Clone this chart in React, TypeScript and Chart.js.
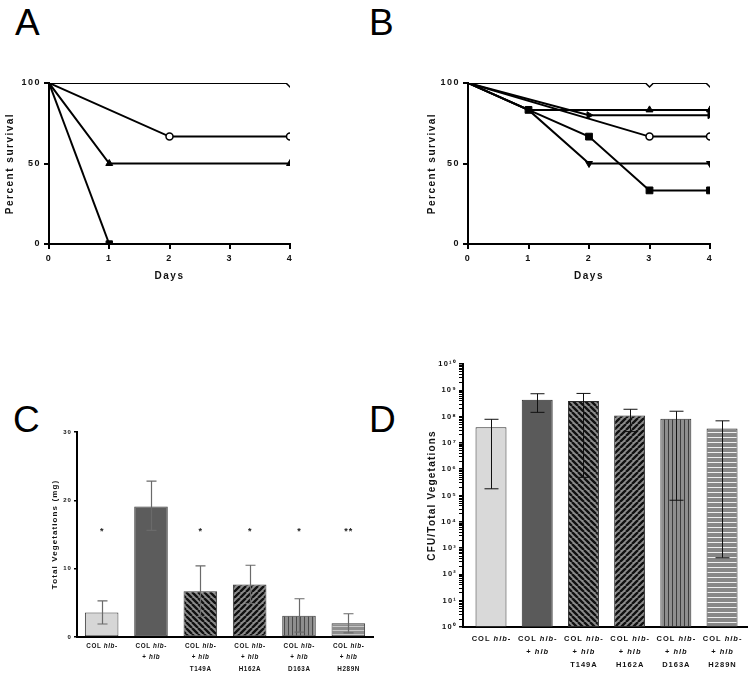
import React, { useEffect, useRef } from 'react';
import { Chart, registerables } from 'chart.js';
Chart.register(...registerables);

const FAMILY = "'Liberation Sans', Arial, Helvetica, sans-serif";

// ---------------- Panel A : survival ----------------
const dayTicks = [0, 1, 2, 3, 4];
const pctTicks = [0, 50, 100];
const aSquareDays = [0, 1];
const aSquarePct = [100, 0];
const aTriDays = [0, 1, 4];
const aTriPct = [100, 50, 50];
const aCircleDays = [0, 2, 4];
const aCirclePct = [100, 66.7, 66.7];
const aDiamondDays = [0, 4];
const aDiamondPct = [100, 100];

// ---------------- Panel B : survival ----------------
const bDiamondDays = [0, 3, 4];
const bDiamondPct = [100, 100, 100];
const bTriUpDays = [0, 1, 3, 4];
const bTriUpPct = [100, 83.3, 83.3, 83.3];
const bTriRightDays = [0, 2, 4];
const bTriRightPct = [100, 80, 80];
const bCircleDays = [0, 3, 4];
const bCirclePct = [100, 66.7, 66.7];
const bSquareDays = [0, 1, 2, 3, 4];
const bSquarePct = [100, 83.3, 66.7, 33.3, 33.3];
const bTriDownDays = [0, 1, 2, 4];
const bTriDownPct = [100, 83.3, 50, 50];

// ---------------- Panels C / D : strains ----------------
const strainLabels = [
  ['COL hlb-'],
  ['COL hlb-', '+ hlb'],
  ['COL hlb-', '+ hlb', 'T149A'],
  ['COL hlb-', '+ hlb', 'H162A'],
  ['COL hlb-', '+ hlb', 'D163A'],
  ['COL hlb-', '+ hlb', 'H289N'],
];

// Panel C: total vegetations (mg)
const cTicks = [0, 10, 20, 30];
const cMeans = [3.6, 19.1, 6.7, 7.7, 3.1, 2.0];
const cErrLow = [1.9, 15.6, 3.0, 4.9, 0.7, 0.6];
const cErrHigh = [5.3, 22.8, 10.4, 10.5, 5.6, 3.4];
const cSignificance = ['*', '', '*', '*', '*', '**'];
const cSigLevel = 15.8;

// Panel D: CFU / total vegetations (log)
const dMeans = [3.9e7, 4.4e8, 3.9e8, 1.1e8, 8.3e7, 3.5e7];
const dErrLow = [1.8e5, 1.45e8, 4.9e5, 2.7e7, 6.6e4, 4.3e2];
const dErrHigh = [7.9e7, 7.4e8, 7.6e8, 1.9e8, 1.6e8, 6.9e7];
const dDecades = [0, 1, 2, 3, 4, 5, 6, 7, 8, 9, 10];

const SUP = '⁰¹²³⁴⁵⁶⁷⁸⁹';
const sup = (n: number) => String(n).split('').map((d) => SUP[+d]).join('');

function spacingPlugin(px: number) {
  return {
    id: 'spacing' + String(px).replace('.', '_'),
    beforeDraw(chart: any) {
      chart.ctx.letterSpacing = px + 'px';
    },
  };
}

function survSet(days: number[], pct: number[], shape: string, r: number, open: boolean, rot = 0, hide: number[] = []) {
  return {
    data: days.map((d, i) => ({ x: d, y: pct[i] })),
    borderColor: '#000',
    borderWidth: 2,
    tension: 0,
    fill: false,
    pointStyle: shape,
    pointRotation: rot,
    pointRadius: days.map((d, i) => (i === 0 || hide.includes(d) ? 0 : r)),
    pointBackgroundColor: open ? '#fff' : '#000',
    pointBorderColor: '#000',
    pointBorderWidth: open ? 1.5 : 1,
    clip: 0,
  };
}

function survivalOptions(yWidth: number, titlePad: number) {
  const tickFont = { family: FAMILY, size: 9, weight: 'bold' as const };
  const titleFont = { family: FAMILY, size: 10, weight: 'bold' as const };
  const grid = { display: true, drawOnChartArea: false, drawTicks: true, tickLength: 5, color: '#000', lineWidth: 2 };
  return {
    animation: false,
    responsive: false,
    devicePixelRatio: 1,
    layout: { padding: { top: 13, right: 10, left: 0, bottom: 0 } },
    plugins: { legend: { display: false }, tooltip: { enabled: false } },
    scales: {
      x: {
        type: 'linear',
        min: 0,
        max: 4,
        afterBuildTicks: (s: any) => { s.ticks = dayTicks.map((v) => ({ value: v })); },
        ticks: { color: '#111', font: tickFont, padding: 4, maxRotation: 0 },
        grid,
        border: { display: true, color: '#000', width: 2 },
        title: { display: true, text: 'Days', color: '#111', font: titleFont, padding: { top: 0, bottom: 8 } },
        afterFit: (s: any) => { s.height = 46; },
      },
      y: {
        type: 'linear',
        min: 0,
        max: 100,
        afterBuildTicks: (s: any) => { s.ticks = pctTicks.map((v) => ({ value: v })); },
        ticks: { color: '#111', font: tickFont, padding: 3 },
        grid,
        border: { display: true, color: '#000', width: 2 },
        title: { display: true, text: 'Percent survival', color: '#111', font: titleFont, padding: { top: titlePad, bottom: 0 } },
        afterFit: (s: any) => { s.width = yWidth; },
      },
    },
  };
}

function makePattern(kind: string, bg: string, fg: string, period: number, lw: number) {
  const c = document.createElement('canvas');
  c.width = period;
  c.height = period;
  const g = c.getContext('2d')!;
  g.fillStyle = bg;
  g.fillRect(0, 0, period, period);
  g.strokeStyle = fg;
  g.lineWidth = lw;
  g.beginPath();
  const mid = Math.floor(period / 2) + 0.5;
  if (kind === 'back') {
    for (const o of [-period, 0, period]) { g.moveTo(o, 0); g.lineTo(o + period, period); }
  } else if (kind === 'fwd') {
    for (const o of [-period, 0, period]) { g.moveTo(o, period); g.lineTo(o + period, 0); }
  } else if (kind === 'vert') {
    g.moveTo(mid, 0); g.lineTo(mid, period);
  } else {
    g.moveTo(0, mid); g.lineTo(period, mid);
  }
  g.stroke();
  return g.createPattern(c, 'repeat')!;
}

function drawRichLabels(chart: any, lines: string[][], size: number, dy: number, lh: number, spacing: number) {
  const ctx = chart.ctx;
  const xs = chart.scales.x;
  const y0 = chart.chartArea.bottom + dy;
  ctx.save();
  ctx.fillStyle = '#111';
  ctx.textBaseline = 'middle';
  ctx.textAlign = 'left';
  ctx.letterSpacing = spacing + 'px';
  lines.forEach((lns, i) => {
    const cx = xs.getPixelForValue(i);
    lns.forEach((line, j) => {
      const segs = line.split(/(hlb)/).filter(Boolean).map((t) => ({ t, it: t === 'hlb', w: 0 }));
      let total = 0;
      segs.forEach((s) => {
        ctx.font = `${s.it ? 'italic ' : ''}bold ${size}px ${FAMILY}`;
        s.w = ctx.measureText(s.t).width;
        total += s.w;
      });
      let x = cx - total / 2 + spacing / 2;
      segs.forEach((s) => {
        ctx.font = `${s.it ? 'italic ' : ''}bold ${size}px ${FAMILY}`;
        ctx.fillText(s.t, x, y0 + j * lh);
        x += s.w;
      });
    });
  });
  ctx.restore();
}

function drawErrorBars(chart: any, lo: number[], hi: number[], color: string, lw: number, cap: number) {
  const ctx = chart.ctx;
  const xs = chart.scales.x;
  const ys = chart.scales.y;
  ctx.save();
  ctx.strokeStyle = color;
  ctx.lineWidth = lw;
  lo.forEach((l, i) => {
    const x = Math.round(xs.getPixelForValue(i)) + 0.5;
    const yl = ys.getPixelForValue(l);
    const yh = ys.getPixelForValue(hi[i]);
    ctx.beginPath();
    ctx.moveTo(x, yl); ctx.lineTo(x, yh);
    ctx.moveTo(x - cap / 2, yl); ctx.lineTo(x + cap / 2, yl);
    ctx.moveTo(x - cap / 2, yh); ctx.lineTo(x + cap / 2, yh);
    ctx.stroke();
  });
  ctx.restore();
}

function useChart(factory: (canvas: HTMLCanvasElement) => any) {
  const ref = useRef<HTMLCanvasElement>(null);
  useEffect(() => {
    const chart = new Chart(ref.current!, factory(ref.current!));
    return () => chart.destroy();
  }, []);
  return ref;
}

function PanelA() {
  const ref = useChart(() => ({
    type: 'line',
    data: {
      datasets: [
        survSet(aSquareDays, aSquarePct, 'rect', 4.5, false),
        survSet(aTriDays, aTriPct, 'triangle', 4, false),
        survSet(aCircleDays, aCirclePct, 'circle', 3.5, true),
        survSet(aDiamondDays, aDiamondPct, 'rectRot', 4, true),
      ],
    },
    options: survivalOptions(49, 4.5),
    plugins: [spacingPlugin(1.5)],
  }));
  return <canvas ref={ref} width={300} height={220} style={{ position: 'absolute', left: 0, top: 70 }} />;
}

function PanelB() {
  const ref = useChart(() => ({
    type: 'line',
    data: {
      datasets: [
        survSet(bSquareDays, bSquarePct, 'rect', 4.8, false),
        survSet(bTriDownDays, bTriDownPct, 'triangle', 4, false, 180, [1]),
        survSet(bTriUpDays, bTriUpPct, 'triangle', 4, false, 0, [1]),
        survSet(bTriRightDays, bTriRightPct, 'triangle', 4, false, 90),
        survSet(bCircleDays, bCirclePct, 'circle', 3.5, true),
        survSet(bDiamondDays, bDiamondPct, 'rectRot', 4, true),
      ],
    },
    options: survivalOptions(48, 6),
    plugins: [spacingPlugin(1.5)],
  }));
  return <canvas ref={ref} width={300} height={220} style={{ position: 'absolute', left: 420, top: 70 }} />;
}

function PanelC() {
  const ref = useChart(() => {
    const fills = [
      '#d6d6d6',
      '#5c5c5c',
      makePattern('back', '#8c8c8c', '#111', 6, 2.4),
      makePattern('fwd', '#8c8c8c', '#111', 6, 2.4),
      makePattern('vert', '#8e8e8e', '#4a4a4a', 4, 1),
      makePattern('horiz', '#8e8e8e', '#c8c8c8', 4, 1),
    ];
    const tickFont = { family: FAMILY, size: 6, weight: 'bold' as const };
    return {
      type: 'bar',
      data: {
        labels: strainLabels,
        datasets: [
          {
            data: cMeans,
            backgroundColor: fills,
            borderColor: '#3a3a3a',
            borderWidth: 1,
            borderSkipped: false,
            barPercentage: 0.68,
            categoryPercentage: 1,
          },
        ],
      },
      options: {
        animation: false,
        responsive: false,
        devicePixelRatio: 1,
        layout: { padding: { top: 32, right: 7, left: 0, bottom: 0 } },
        plugins: { legend: { display: false }, tooltip: { enabled: false } },
        scales: {
          x: {
            type: 'category',
            ticks: { display: false },
            grid: { display: false },
            border: { display: true, color: '#000', width: 2 },
            afterFit: (s: any) => { s.height = 41; },
          },
          y: {
            type: 'linear',
            min: 0,
            max: 30,
            afterBuildTicks: (s: any) => { s.ticks = cTicks.map((v) => ({ value: v })); },
            ticks: { color: '#111', font: tickFont, padding: 2 },
            grid: { display: true, drawOnChartArea: false, drawTicks: true, tickLength: 3, color: '#000', lineWidth: 1.5 },
            border: { display: true, color: '#000', width: 2 },
            title: {
              display: true,
              text: 'Total Vegetations (mg)',
              color: '#111',
              font: { family: FAMILY, size: 8, weight: 'bold' as const },
              padding: { top: 20, bottom: 0 },
            },
            afterFit: (s: any) => { s.width = 47; },
          },
        },
      },
      plugins: [
        spacingPlugin(1.1),
        {
          id: 'extrasC',
          afterDatasetsDraw(chart: any) {
            drawErrorBars(chart, cErrLow, cErrHigh, '#6a6a6a', 1.2, 10);
            const c = chart.ctx;
            c.save();
            c.fillStyle = '#222';
            c.font = `bold 9px ${FAMILY}`;
            c.textAlign = 'center';
            c.textBaseline = 'alphabetic';
            c.letterSpacing = '1px';
            cSignificance.forEach((s, i) => {
              if (!s) return;
              c.fillText(s, chart.scales.x.getPixelForValue(i) + 0.5, chart.scales.y.getPixelForValue(cSigLevel) + 5);
            });
            c.restore();
          },
          afterDraw(chart: any) {
            drawRichLabels(chart, strainLabels, 6.3, 9, 11.5, 0.6);
          },
        },
      ],
    };
  });
  return <canvas ref={ref} width={350} height={278} style={{ position: 'absolute', left: 30, top: 400 }} />;
}

function PanelD() {
  const ref = useChart(() => {
    const fills = [
      '#d9d9d9',
      '#5a5a5a',
      makePattern('back', '#8c8c8c', '#111', 6, 2.4),
      makePattern('fwd', '#8c8c8c', '#111', 6, 2.4),
      makePattern('vert', '#8e8e8e', '#3c3c3c', 4, 1),
      makePattern('horiz', '#878787', '#f0f0f0', 5, 1),
    ];
    return {
      type: 'bar',
      data: {
        datasets: [
          {
            data: dMeans.map((v, i) => ({ x: i, y: v })),
            backgroundColor: fills,
            borderColor: '#2a2a2a',
            borderWidth: 1,
            borderSkipped: false,
            barPercentage: 0.67,
            categoryPercentage: 1,
          },
        ],
      },
      options: {
        animation: false,
        responsive: false,
        devicePixelRatio: 1,
        layout: { padding: { top: 24, right: 7, left: 0, bottom: 0 } },
        plugins: { legend: { display: false }, tooltip: { enabled: false } },
        scales: {
          x: {
            type: 'linear',
            offset: false,
            min: -0.606,
            max: 5.54,
            ticks: { display: false },
            grid: { display: false, offset: false },
            border: { display: true, color: '#000', width: 2 },
            afterFit: (s: any) => { s.height = 51; },
          },
          y: {
            type: 'logarithmic',
            min: 1,
            max: 1e10,
            afterBuildTicks: (s: any) => {
              const t: any[] = [];
              dDecades.forEach((e) => {
                for (let m = 1; m <= 9; m++) {
                  if (e === 10 && m > 1) break;
                  t.push({ value: m * Math.pow(10, e), major: m === 1 });
                }
              });
              s.ticks = t;
            },
            ticks: {
              color: '#111',
              autoSkip: false,
              font: { family: FAMILY, size: 7.5, weight: 'bold' as const },
              padding: 2,
              callback: (v: number) => {
                const e = Math.log10(v);
                return Math.abs(e - Math.round(e)) < 1e-9 ? '10' + sup(Math.round(e)) : '';
              },
            },
            grid: {
              display: true,
              drawOnChartArea: false,
              drawTicks: true,
              tickLength: 4,
              color: '#000',
              lineWidth: (c: any) => (c.tick && c.tick.major ? 1.5 : 1),
            },
            border: { display: true, color: '#000', width: 2 },
            title: {
              display: true,
              text: 'CFU/Total Vegetations',
              color: '#111',
              font: { family: FAMILY, size: 10, weight: 'bold' as const },
              padding: { top: 16, bottom: 0 },
            },
            afterFit: (s: any) => { s.width = 53; },
          },
        },
      },
      plugins: [
        spacingPlugin(1.2),
        {
          id: 'extrasD',
          afterDatasetsDraw(chart: any) {
            drawErrorBars(chart, dErrLow, dErrHigh, '#111', 1, 14);
          },
          afterDraw(chart: any) {
            drawRichLabels(chart, strainLabels, 7.5, 12, 13, 1);
          },
        },
      ],
    };
  });
  return <canvas ref={ref} width={344} height={338} style={{ position: 'absolute', left: 410, top: 340 }} />;
}

const letterStyle = (left: number, top: number): React.CSSProperties => ({
  position: 'absolute',
  left,
  top,
  fontFamily: FAMILY,
  fontSize: 37,
  lineHeight: '37px',
  color: '#000',
  fontWeight: 'normal',
});

export default function App() {
  return (
    <div style={{ position: 'absolute', left: 0, top: 0, width: 754, height: 678, background: '#fff', overflow: 'hidden' }}>
      <div style={letterStyle(15, 4)}>A</div>
      <div style={letterStyle(369, 4)}>B</div>
      <div style={letterStyle(13, 401)}>C</div>
      <div style={letterStyle(369, 401)}>D</div>
      <PanelA />
      <PanelB />
      <PanelC />
      <PanelD />
    </div>
  );
}
